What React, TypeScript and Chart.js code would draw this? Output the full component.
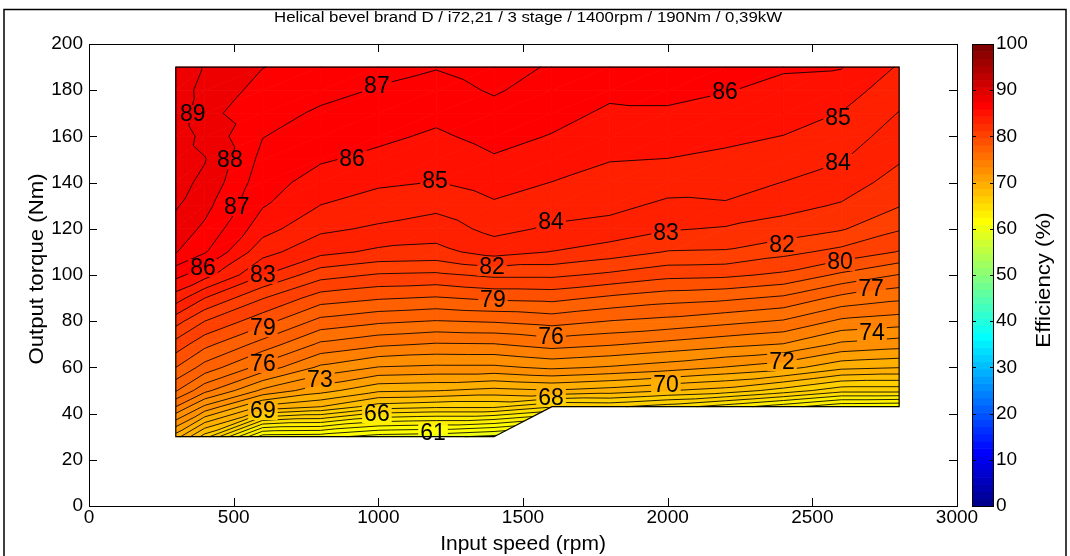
import React, { useEffect, useRef } from "react";
import { Chart, registerables } from "chart.js";

Chart.register(...registerables);

const FONT = '"Liberation Sans", Arial, Helvetica, sans-serif';

// Grid of measurement points
const speeds = [300, 400, 600, 800, 1000, 1200, 1400, 1600, 1800, 2000, 2200, 2400, 2600, 2800];
const torques = [30, 43, 50, 60, 70, 80, 90, 100, 110, 120, 130, 140, 150, 160, 170, 180, 190];

// Efficiency (%) per input speed column, one value per torque row (null = not measured)
const eff300 = [70.5, 75.0, 77.1, 79.0, 80.6, 82.4, 84.5, 86.3, 88.05, 88.6, 89.1, 89.3, 89.45, 89.6, 89.7, 89.65, 89.6];
const eff400 = [67.5, 72.8, 75.3, 77.6, 79.3, 81.0, 83.0, 85.4, 87.1, 87.8, 88.32, 88.8, 89.05, 88.7, 88.28, 88.6, 88.93];
const eff600 = [61.5, 69.8, 72.8, 75.6, 77.6, 79.4, 81.05, 83.05, 84.35, 85.4, 86.07, 86.4, 86.7, 87.03, 87.4, 87.7, 88.02];
const eff800 = [61.4, 69.02, 71.4, 73.8, 75.8, 77.7, 79.5, 81.4, 83.3, 84.2, 84.98, 85.6, 86.1, 86.5, 86.85, 87.3, 87.7];
const eff1000 = [60.5, 67.5, 70.2, 72.95, 75.2, 77.2, 79.1, 80.9, 82.8, 83.85, 84.53, 85.15, 85.76, 86.2, 86.57, 86.93, 87.25];
const eff1200 = [60.3, 67.2, 70.05, 72.8, 74.9, 76.95, 78.9, 80.8, 82.7, 83.5, 84.25, 84.97, 85.4, 85.85, 86.25, 86.65, 87.05];
const eff1400 = [59.7, 67.2, 69.7, 72.8, 74.95, 77.1, 79.2, 81.2, 83.4, 84.3, 84.85, 85.4, 85.9, 86.3, 86.7, 87.1, 87.4];
const eff1600 = [null, 66.1, 69.95, 73.2, 75.4, 77.4, 79.3, 81.2, 82.97, 83.85, 84.45, 84.98, 85.5, 85.95, 86.3, 86.6, 86.9];
const eff1800 = [null, 66.2, 69.6, 72.9, 75.1, 76.97, 78.8, 80.8, 82.5, 83.65, 84.25, 84.65, 85.04, 85.44, 85.85, 86.2, 86.5];
const eff2000 = [null, 65.5, 69.05, 72.5, 74.7, 76.7, 78.4, 80.3, 81.95, 83.1, 83.8, 84.4, 84.98, 85.4, 85.85, 86.3, 86.6];
const eff2200 = [null, 64.5, 68.6, 71.95, 74.3, 76.3, 78.2, 80.2, 81.9, 82.9, 83.9, 84.35, 84.8, 85.2, 85.6, 86.05, 86.4];
const eff2400 = [null, 63.4, 67.6, 71.4, 73.95, 75.9, 77.8, 79.8, 81.3, 82.6, 83.3, 83.98, 84.5, 84.98, 85.4, 85.75, 86.1];
const eff2600 = [null, 62.2, 66.4, 70.3, 72.8, 74.8, 76.7, 78.8, 80.7, 82.1, 82.9, 83.5, 84.07, 84.5, 84.97, 85.5, 86.05];
const eff2800 = [null, 62.05, 66.4, 70.05, 72.45, 74.5, 76.2, 77.95, 79.95, 81.1, 82.05, 82.6, 83.1, 83.55, 83.96, 84.4, 84.9];

const effColumns = [eff300, eff400, eff600, eff800, eff1000, eff1200, eff1400, eff1600, eff1800, eff2000, eff2200, eff2400, eff2600, eff2800];

// Contour levels (%)
const contourLevels = [55, 56, 57, 58, 59, 60, 61, 62, 63, 64, 65, 66, 67, 68, 69, 70, 71, 72, 73, 74, 75, 76, 77, 78, 79, 80, 81, 82, 83, 84, 85, 86, 87, 88, 89, 90];

// Inline contour labels
const labelSpeeds = [359, 487, 511, 394, 601, 601, 601, 601, 798, 995, 1189, 995, 909, 1196, 1393, 1396, 1597, 1597, 1597, 1994, 1994, 2198, 2589, 2589, 2395, 2596, 2703, 2706, 2395];
const labelTorques = [169.7, 149.8, 129.4, 103, 100, 77, 61.5, 41.1, 54.5, 39.8, 31.6, 181.8, 150.2, 140.7, 103.5, 89.2, 123, 73.2, 46.8, 118.2, 52.4, 179.2, 168, 148.5, 113, 105.6, 94, 74.9, 62.3];
const labelLevels = [89, 88, 87, 86, 83, 79, 76, 69, 73, 66, 61, 87, 86, 85, 82, 79, 84, 76, 68, 83, 70, 86, 85, 84, 82, 80, 77, 74, 72];

// Axes
const xTicks = [0, 500, 1000, 1500, 2000, 2500, 3000];
const yTicks = [0, 20, 40, 60, 80, 100, 120, 140, 160, 180, 200];
const colorbarTicks = [0, 10, 20, 30, 40, 50, 60, 70, 80, 90, 100];

const titleText = "Helical bevel brand D / i72,21 / 3 stage / 1400rpm / 190Nm / 0,39kW";
const xTitle = "Input speed (rpm)";
const yTitle = "Output torque (Nm)";
const cbTitle = "Efficiency (%)";

function jet64(idx: number): string {
  const i = Math.max(1, Math.min(64, idx));
  const r = i <= 24 ? 0 : i <= 40 ? (i - 24) / 16 : i <= 56 ? 1 : (72 - i) / 16;
  const g = i <= 8 ? 0 : i <= 24 ? (i - 8) / 16 : i <= 40 ? 1 : i <= 56 ? (56 - i) / 16 : 0;
  const b = i <= 8 ? (i + 8) / 16 : i <= 24 ? 1 : i <= 40 ? (40 - i) / 16 : 0;
  return `rgb(${Math.round(r * 255)},${Math.round(g * 255)},${Math.round(b * 255)})`;
}
function colorForValue(v: number): string {
  return jet64(Math.floor((v / 100) * 64) + 1);
}

type P = { x: number; y: number; v: number };

function clipPoly(poly: P[], level: number, keepAbove: boolean): P[] {
  const out: P[] = [];
  const inside = (p: P) => (keepAbove ? p.v >= level : p.v < level);
  for (let k = 0; k < poly.length; k++) {
    const a = poly[k];
    const b = poly[(k + 1) % poly.length];
    const ia = inside(a);
    const ib = inside(b);
    if (ia) out.push(a);
    if (ia !== ib) {
      const t = (level - a.v) / (b.v - a.v);
      out.push({ x: a.x + t * (b.x - a.x), y: a.y + t * (b.y - a.y), v: level });
    }
  }
  return out;
}

function drawStretched(ctx: CanvasRenderingContext2D, text: string, cx: number, cy: number, rot: number, sx: number) {
  ctx.save();
  ctx.translate(cx, cy);
  ctx.rotate(rot);
  ctx.scale(sx, 1);
  ctx.fillText(text, 0, 0);
  ctx.restore();
}

const contourPlugin = {
  id: "contourPlugin",
  beforeDatasetsDraw(chart: any) {
    const ctx: CanvasRenderingContext2D = chart.ctx;
    const xs = chart.scales.x;
    const ys = chart.scales.y;
    const area = chart.chartArea;
    const pt = (i: number, j: number): P | null => {
      const v = effColumns[i][j];
      if (v === null || v === undefined) return null;
      return { x: xs.getPixelForValue(speeds[i]), y: ys.getPixelForValue(torques[j]), v: v as number };
    };
    const tris: P[][] = [];
    for (let i = 0; i < speeds.length - 1; i++) {
      for (let j = 0; j < torques.length - 1; j++) {
        const bl = pt(i, j), br = pt(i + 1, j), tr = pt(i + 1, j + 1), tl = pt(i, j + 1);
        if (bl && br && tr) tris.push([bl, br, tr]);
        if (bl && tr && tl) tris.push([bl, tr, tl]);
      }
    }
    ctx.save();
    for (const tri of tris) {
      const vmin = Math.min(tri[0].v, tri[1].v, tri[2].v);
      const vmax = Math.max(tri[0].v, tri[1].v, tri[2].v);
      for (let k = -1; k < contourLevels.length; k++) {
        const lo = k >= 0 ? contourLevels[k] : -Infinity;
        const hi = k + 1 < contourLevels.length ? contourLevels[k + 1] : Infinity;
        if (vmax < lo || vmin >= hi) continue;
        let poly = tri;
        if (k >= 0) poly = clipPoly(poly, lo, true);
        if (poly.length >= 3 && hi !== Infinity) poly = clipPoly(poly, hi, false);
        if (poly.length < 3) continue;
        const col = colorForValue(k >= 0 ? lo : vmin);
        ctx.beginPath();
        ctx.moveTo(poly[0].x, poly[0].y);
        for (let q = 1; q < poly.length; q++) ctx.lineTo(poly[q].x, poly[q].y);
        ctx.closePath();
        ctx.fillStyle = col;
        ctx.strokeStyle = col;
        ctx.lineWidth = 0.8;
        ctx.fill();
        ctx.stroke();
      }
    }
    ctx.font = `23px ${FONT}`;
    const boxes = labelLevels.map((lv, n) => {
      const cx = xs.getPixelForValue(labelSpeeds[n]);
      const cy = ys.getPixelForValue(labelTorques[n]);
      const w = ctx.measureText(String(lv)).width + 4;
      return { cx, cy, w, h: 18 };
    });
    ctx.save();
    ctx.beginPath();
    ctx.rect(area.left, area.top, area.right - area.left, area.bottom - area.top);
    for (const b of boxes) ctx.rect(b.cx - b.w / 2, b.cy - b.h / 2, b.w, b.h);
    ctx.clip("evenodd");
    ctx.beginPath();
    for (const tri of tris) {
      for (const L of contourLevels) {
        const pts: { x: number; y: number }[] = [];
        for (let e = 0; e < 3; e++) {
          const a = tri[e];
          const b = tri[(e + 1) % 3];
          if ((a.v >= L) !== (b.v >= L)) {
            const t = (L - a.v) / (b.v - a.v);
            pts.push({ x: a.x + t * (b.x - a.x), y: a.y + t * (b.y - a.y) });
          }
        }
        if (pts.length === 2) {
          ctx.moveTo(pts[0].x, pts[0].y);
          ctx.lineTo(pts[1].x, pts[1].y);
        }
      }
    }
    ctx.strokeStyle = "#000";
    ctx.lineWidth = 0.85;
    ctx.stroke();
    ctx.restore();

    const outline: { x: number; y: number }[] = [];
    for (let i = 0; i < speeds.length; i++) {
      let j = 0;
      while (effColumns[i][j] === null) j++;
      outline.push({ x: xs.getPixelForValue(speeds[i]), y: ys.getPixelForValue(torques[j]) });
    }
    const last = torques.length - 1;
    outline.push({ x: xs.getPixelForValue(speeds[speeds.length - 1]), y: ys.getPixelForValue(torques[last]) });
    outline.push({ x: xs.getPixelForValue(speeds[0]), y: ys.getPixelForValue(torques[last]) });
    ctx.beginPath();
    ctx.moveTo(outline[0].x, outline[0].y);
    for (let q = 1; q < outline.length; q++) ctx.lineTo(outline[q].x, outline[q].y);
    ctx.closePath();
    ctx.strokeStyle = "#000";
    ctx.lineWidth = 1.2;
    ctx.stroke();

    ctx.fillStyle = "#000";
    ctx.textAlign = "center";
    ctx.textBaseline = "middle";
    ctx.font = `23px ${FONT}`;
    boxes.forEach((b, n) => ctx.fillText(String(labelLevels[n]), b.cx, b.cy + 1));
    ctx.restore();
  },
  afterDraw(chart: any) {
    const ctx: CanvasRenderingContext2D = chart.ctx;
    const xs = chart.scales.x;
    const ys = chart.scales.y;
    const cb = chart.scales.cb;
    const a = chart.chartArea;
    ctx.save();
    ctx.strokeStyle = "#000";
    ctx.lineWidth = 1;
    ctx.strokeRect(Math.round(a.left) + 0.5, Math.round(a.top) + 0.5, Math.round(a.right - a.left), Math.round(a.bottom - a.top));
    ctx.beginPath();
    for (const v of xTicks) {
      const x = Math.round(xs.getPixelForValue(v)) + 0.5;
      ctx.moveTo(x, a.bottom);
      ctx.lineTo(x, a.bottom - 8);
      ctx.moveTo(x, a.top);
      ctx.lineTo(x, a.top + 8);
    }
    for (const v of yTicks) {
      const y = Math.round(ys.getPixelForValue(v)) + 0.5;
      ctx.moveTo(a.left, y);
      ctx.lineTo(a.left + 8, y);
      ctx.moveTo(a.right, y);
      ctx.lineTo(a.right - 8, y);
    }
    ctx.stroke();

    const cbLeft = 972;
    const cbRight = 993;
    for (let i = 0; i < 64; i++) {
      const y0 = cb.getPixelForValue((i * 100) / 64);
      const y1 = cb.getPixelForValue(((i + 1) * 100) / 64);
      ctx.fillStyle = jet64(i + 1);
      ctx.fillRect(cbLeft, y1, cbRight - cbLeft, y0 - y1 + 0.6);
    }
    ctx.strokeStyle = "#000";
    ctx.lineWidth = 1;
    ctx.strokeRect(cbLeft + 0.5, Math.round(cb.top) + 0.5, cbRight - cbLeft, Math.round(cb.bottom - cb.top));
    ctx.beginPath();
    for (const v of colorbarTicks) {
      const y = Math.round(cb.getPixelForValue(v)) + 0.5;
      ctx.moveTo(cbLeft, y);
      ctx.lineTo(cbLeft + 4, y);
      ctx.moveTo(cbRight + 1, y);
      ctx.lineTo(cbRight - 3, y);
    }
    ctx.stroke();

    ctx.fillStyle = "#000";
    ctx.textAlign = "center";
    ctx.textBaseline = "middle";
    ctx.font = `14px ${FONT}`;
    drawStretched(ctx, titleText, 528, 18, 0, 1.2);
    ctx.font = `20px ${FONT}`;
    drawStretched(ctx, xTitle, 523, 544, 0, 1.05);
    drawStretched(ctx, yTitle, 37, 269, -Math.PI / 2, 1.11);
    drawStretched(ctx, cbTitle, 1044, 280, -Math.PI / 2, 1.11);

    ctx.strokeStyle = "#000";
    ctx.lineWidth = 1.5;
    ctx.strokeRect(4, 9.5, 1062, 560);
    ctx.restore();
  },
};

const noPad = (s: any) => {
  s.paddingTop = 0;
  s.paddingBottom = 0;
  s.paddingLeft = 0;
  s.paddingRight = 0;
};

export default function App() {
  const canvasRef = useRef<HTMLCanvasElement | null>(null);
  useEffect(() => {
    if (!canvasRef.current) return;
    const points: { x: number; y: number }[] = [];
    speeds.forEach((s, i) =>
      torques.forEach((t, j) => {
        if (effColumns[i][j] !== null) points.push({ x: s, y: t });
      })
    );
    const tickFont = { family: FONT, size: 19 };
    const fmt = (v: any) => String(v);
    const chart = new Chart(canvasRef.current, {
      type: "scatter",
      data: {
        datasets: [
          {
            label: "grid",
            data: points,
            pointRadius: 0,
            showLine: false,
          },
        ],
      },
      options: {
        responsive: false,
        animation: false,
        devicePixelRatio: 1,
        events: [],
        layout: { padding: { left: 0, top: 44, right: 0, bottom: 0 } },
        plugins: { legend: { display: false }, tooltip: { enabled: false }, title: { display: false } },
        scales: {
          x: {
            type: "linear",
            min: 0,
            max: 3000,
            afterBuildTicks: (s: any) => {
              s.ticks = xTicks.map((v) => ({ value: v }));
            },
            ticks: { font: tickFont, color: "#000", padding: 0, maxRotation: 0, autoSkip: false, callback: fmt },
            grid: { display: false, drawTicks: false },
            border: { display: false },
            afterFit: (s: any) => {
              s.height = 50;
              noPad(s);
            },
          },
          y: {
            type: "linear",
            min: 0,
            max: 200,
            afterBuildTicks: (s: any) => {
              s.ticks = yTicks.map((v) => ({ value: v }));
            },
            ticks: { font: tickFont, color: "#000", padding: 6, autoSkip: false, callback: fmt },
            grid: { display: false, drawTicks: false },
            border: { display: false },
            afterFit: (s: any) => {
              s.width = 89;
              noPad(s);
            },
          },
          cb: {
            type: "linear",
            position: "right",
            min: 0,
            max: 100,
            afterBuildTicks: (s: any) => {
              s.ticks = colorbarTicks.map((v) => ({ value: v }));
            },
            ticks: { font: tickFont, color: "#000", padding: 39, autoSkip: false, callback: fmt },
            grid: { display: false, drawTicks: false },
            border: { display: false },
            afterFit: (s: any) => {
              s.width = 113;
              noPad(s);
            },
          },
        },
      },
      plugins: [contourPlugin],
    });
    return () => chart.destroy();
  }, []);
  return (
    <div style={{ position: "absolute", left: 0, top: 0, width: 1070, height: 556, background: "#fff" }}>
      <canvas ref={canvasRef} width={1070} height={556} style={{ display: "block" }} />
    </div>
  );
}
